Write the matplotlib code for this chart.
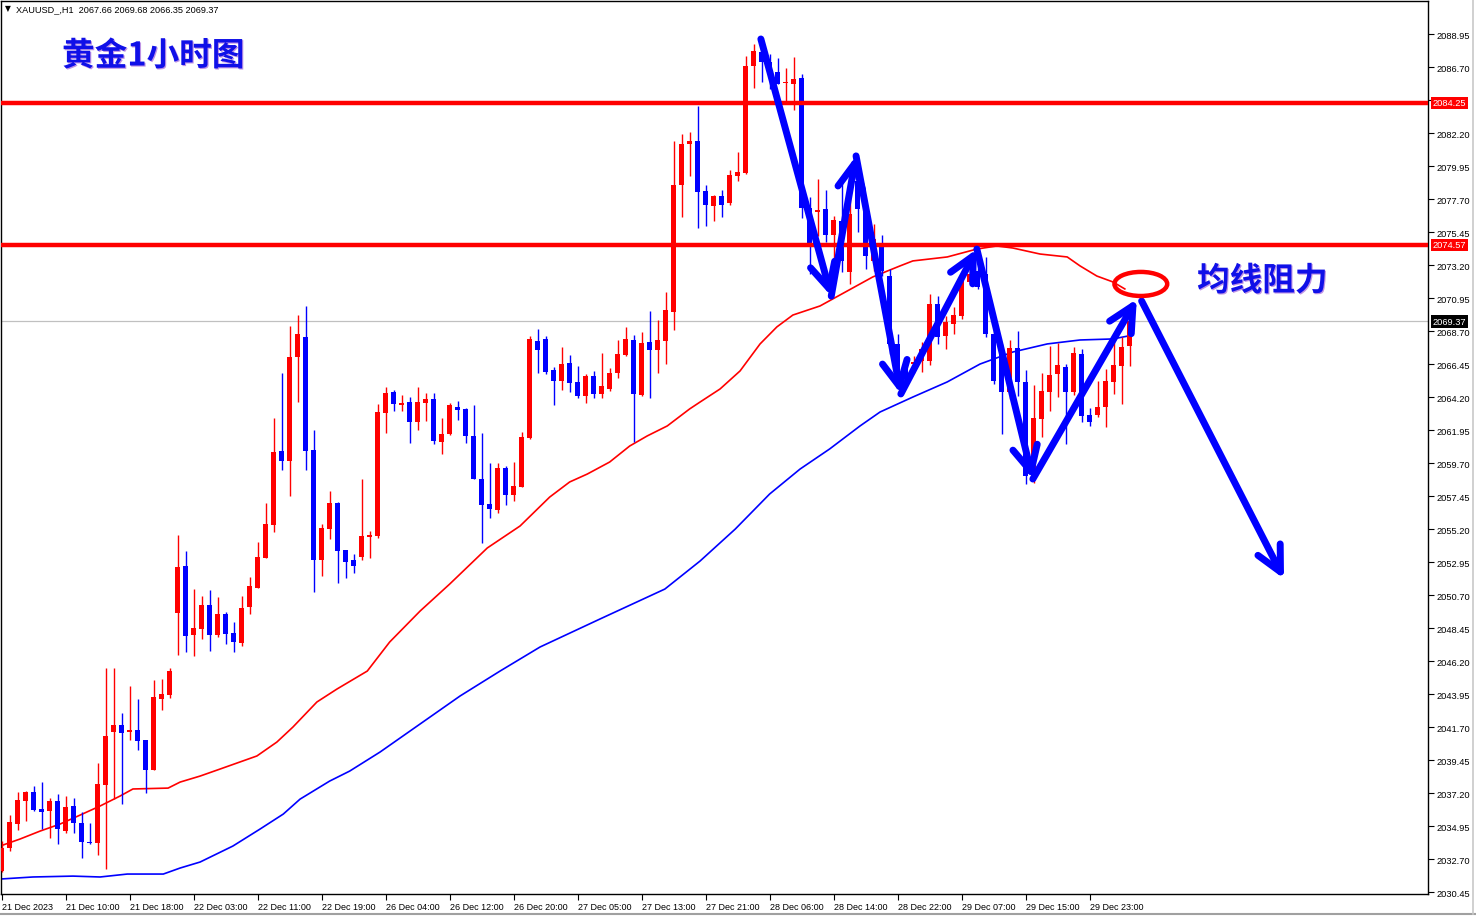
import matplotlib
matplotlib.use('Agg')
import matplotlib.pyplot as plt
import matplotlib.patheffects as pe
import matplotlib.transforms as mtransforms
from matplotlib.patches import Ellipse
from matplotlib.lines import Line2D
import numpy as np

plt.rcParams['font.family'] = ['Liberation Sans', 'DejaVu Sans']

# ---------------- data (XAUUSD H1 candles) ----------------
opens = [2031.88, 2033.45, 2035.09, 2036.65, 2037.27, 2036.11, 2035.97, 2036.65, 2034.61, 2036.31,
         2035.15, 2033.86, 2033.79, 2037.74, 2041.36, 2041.84, 2041.36, 2041.50, 2040.82, 2038.77,
         2043.61, 2043.88, 2049.48, 2052.68, 2047.97, 2048.38, 2050.02, 2047.97, 2049.41, 2048.11,
         2047.43, 2049.89, 2051.18, 2053.22, 2055.48, 2060.52, 2059.84, 2066.93, 2068.29, 2060.59,
         2053.09, 2055.20, 2056.98, 2053.77, 2053.09, 2053.29, 2054.66, 2054.73, 2063.11, 2064.54,
         2063.66, 2063.86, 2062.50, 2063.79, 2064.07, 2061.13, 2061.68, 2063.52, 2063.38, 2061.54,
         2058.61, 2056.91, 2056.50, 2059.36, 2057.52, 2058.07, 2061.41, 2068.02, 2068.16, 2066.04,
         2065.29, 2066.52, 2065.23, 2064.27, 2065.63, 2064.41, 2064.75, 2065.84, 2067.07, 2068.09,
         2064.34, 2067.95, 2067.41, 2068.02, 2070.00, 2078.66, 2081.45, 2081.66, 2078.25, 2077.23,
         2077.91, 2077.43, 2079.27, 2079.48, 2086.77, 2087.73, 2087.04, 2086.36, 2085.61, 2085.54,
         2085.95, 2077.09, 2076.82, 2077.02, 2075.25, 2076.20, 2072.73, 2078.93, 2077.02, 2073.48,
         2074.57, 2072.45, 2067.82, 2066.25, 2066.45, 2066.66, 2066.66, 2070.54, 2068.36, 2069.18,
         2069.73, 2072.05, 2072.79, 2072.59, 2068.50, 2067.34, 2064.54, 2067.54, 2065.23, 2059.02,
         2062.70, 2064.54, 2065.77, 2066.25, 2064.54, 2067.13, 2062.98, 2062.98, 2063.52, 2065.23,
         2066.32, 2067.66]
highs = [2033.93, 2035.70, 2037.27, 2037.34, 2037.68, 2037.95, 2036.86, 2037.13, 2036.99, 2036.86,
         2035.90, 2035.15, 2039.24, 2045.72, 2045.72, 2042.65, 2044.50, 2043.61, 2040.82, 2044.91,
         2044.97, 2045.72, 2054.79, 2053.70, 2051.11, 2050.64, 2051.04, 2050.57, 2049.55, 2048.86,
         2050.64, 2051.93, 2054.32, 2056.98, 2062.77, 2065.84, 2069.04, 2069.80, 2070.41, 2061.95,
         2055.54, 2057.79, 2057.04, 2053.77, 2053.50, 2058.61, 2055.07, 2063.73, 2064.89, 2064.68,
         2064.34, 2064.20, 2064.89, 2064.48, 2064.48, 2062.77, 2063.79, 2063.93, 2063.45, 2063.66,
         2061.75, 2059.70, 2059.70, 2059.50, 2059.77, 2061.82, 2068.36, 2068.84, 2068.36, 2066.25,
         2067.61, 2067.07, 2066.32, 2065.77, 2065.98, 2067.20, 2066.18, 2068.09, 2068.98, 2068.43,
         2068.63, 2070.07, 2069.45, 2071.36, 2081.66, 2082.14, 2082.27, 2084.04, 2078.66, 2077.98,
         2078.32, 2079.68, 2080.91, 2087.45, 2088.27, 2088.27, 2087.59, 2087.32, 2086.64, 2087.39,
         2086.23, 2077.84, 2079.07, 2078.32, 2076.55, 2078.86, 2078.39, 2079.27, 2077.36, 2075.98,
         2075.25, 2072.93, 2068.50, 2066.66, 2067.00, 2067.95, 2071.23, 2071.09, 2069.73, 2070.34,
         2072.73, 2073.27, 2073.48, 2073.75, 2069.18, 2067.82, 2068.09, 2068.70, 2066.04, 2065.02,
         2065.84, 2067.68, 2067.89, 2066.45, 2067.61, 2067.48, 2063.45, 2065.29, 2066.11, 2068.16,
         2068.29, 2069.68]
lows = [2031.81, 2033.24, 2034.68, 2035.29, 2035.97, 2034.74, 2034.13, 2033.72, 2034.47, 2034.47,
        2032.77, 2033.72, 2032.97, 2032.02, 2036.79, 2036.45, 2040.82, 2040.13, 2037.20, 2038.77,
        2042.86, 2043.68, 2046.61, 2046.82, 2046.54, 2047.70, 2046.88, 2047.84, 2047.36, 2046.82,
        2047.22, 2049.41, 2051.18, 2053.22, 2055.00, 2059.23, 2057.45, 2063.86, 2059.23, 2050.91,
        2052.00, 2054.52, 2051.52, 2051.86, 2052.20, 2053.09, 2053.22, 2054.59, 2061.75, 2063.25,
        2063.25, 2061.06, 2061.95, 2062.57, 2061.00, 2060.32, 2061.61, 2062.63, 2061.06, 2058.61,
        2054.25, 2055.95, 2056.29, 2056.84, 2057.11, 2058.07, 2061.34, 2065.84, 2065.77, 2063.66,
        2064.68, 2064.54, 2064.14, 2063.79, 2064.14, 2064.14, 2064.61, 2065.50, 2067.00, 2061.13,
        2064.27, 2064.14, 2065.84, 2066.45, 2068.77, 2076.48, 2079.27, 2075.73, 2075.86, 2076.20,
        2076.48, 2077.29, 2078.93, 2079.41, 2085.27, 2085.68, 2085.20, 2085.54, 2084.32, 2083.77,
        2076.41, 2072.59, 2075.18, 2074.77, 2073.14, 2072.73, 2071.91, 2075.45, 2072.93, 2072.79,
        2072.45, 2067.14, 2065.23, 2064.89, 2065.84, 2065.91, 2066.38, 2067.82, 2067.48, 2068.50,
        2069.52, 2071.91, 2071.57, 2068.29, 2065.09, 2061.68, 2064.07, 2064.27, 2058.27, 2058.34,
        2061.47, 2063.25, 2064.20, 2061.00, 2064.34, 2062.50, 2062.23, 2062.84, 2062.16, 2064.41,
        2063.73, 2066.35]
closes = [2033.45, 2035.22, 2036.72, 2037.27, 2036.04, 2035.90, 2036.65, 2034.74, 2036.24, 2035.15,
          2033.86, 2033.79, 2037.81, 2041.09, 2041.84, 2041.29, 2041.50, 2040.75, 2038.77, 2043.75,
          2043.95, 2045.52, 2052.61, 2047.91, 2048.45, 2050.02, 2047.97, 2049.41, 2048.04, 2047.50,
          2049.82, 2051.32, 2053.29, 2055.54, 2060.45, 2059.84, 2066.93, 2068.50, 2060.52, 2053.09,
          2055.27, 2056.98, 2053.70, 2052.95, 2052.68, 2054.73, 2054.79, 2063.18, 2064.48, 2063.73,
          2063.79, 2062.50, 2063.86, 2064.07, 2061.20, 2061.68, 2063.66, 2063.32, 2061.54, 2058.61,
          2056.84, 2056.57, 2059.36, 2057.52, 2058.13, 2061.47, 2068.16, 2067.41, 2065.91, 2065.29,
          2066.45, 2065.16, 2064.27, 2065.63, 2064.41, 2064.95, 2065.84, 2067.13, 2068.16, 2064.41,
          2067.89, 2067.41, 2068.09, 2070.14, 2078.66, 2081.45, 2081.66, 2078.18, 2077.29, 2077.91,
          2077.29, 2079.34, 2079.54, 2086.77, 2087.79, 2087.04, 2086.23, 2085.54, 2085.68, 2085.89,
          2077.09, 2074.64, 2076.95, 2075.25, 2076.27, 2073.48, 2076.68, 2077.02, 2073.82, 2074.98,
          2072.79, 2067.82, 2065.77, 2065.43, 2066.59, 2067.48, 2070.54, 2068.29, 2069.32, 2069.79,
          2072.25, 2072.59, 2071.70, 2068.50, 2065.29, 2064.54, 2067.54, 2065.23, 2058.82, 2062.77,
          2064.61, 2065.70, 2066.38, 2064.54, 2067.20, 2062.91, 2062.50, 2063.52, 2065.29, 2066.38,
          2067.61, 2069.37]

# moving averages (bar index, price)
ma_red_bar = [-0.2, 2.3, 4.8, 7.3, 9.8, 12.3, 14.8, 16.4, 20.8, 22.3, 24.8, 27.3, 31.9, 34.4, 36.4,
              39.4, 41.9, 45.7, 48.5, 52.3, 56.0, 60.7, 64.8, 68.5, 71.0, 73.2, 76.0, 78.5, 80.7,
              83.2, 86.0, 87.3, 89.8, 92.3, 94.8, 96.9, 98.9, 102.3, 105.7, 108.9, 112.3, 113.9,
              118.2, 121.9, 124.4, 126.4, 129.8, 133.2, 134.8, 136.9, 138.9, 140.4]
ma_red_val = [2033.59, 2034.07, 2034.61, 2035.09, 2035.70, 2036.32, 2037.00, 2037.48, 2037.54,
              2037.95, 2038.36, 2038.84, 2039.73, 2040.68, 2041.70, 2043.41, 2044.29, 2045.52,
              2047.50, 2049.61, 2051.45, 2053.91, 2055.41, 2057.38, 2058.41, 2058.95, 2059.77,
              2060.86, 2061.55, 2062.23, 2063.39, 2063.86, 2064.75, 2065.98, 2067.82, 2068.98,
              2069.79, 2070.41, 2071.43, 2072.39, 2073.14, 2073.48, 2073.75, 2074.29, 2074.50,
              2074.36, 2073.95, 2073.75, 2073.14, 2072.45, 2072.05, 2071.57]
ma_blue_bar = [-0.2, 3.9, 8.9, 12.3, 15.7, 20.2, 22.3, 24.8, 28.9, 32.3, 35.2, 37.3, 41.0, 43.5,
               47.3, 52.3, 57.3, 62.3, 67.3, 74.8, 82.9, 87.3, 91.7, 96.0, 99.8, 103.5, 107.3,
               109.8, 113.9, 118.2, 122.3, 126.4, 130.7, 134.8, 138.9, 140.8]
ma_blue_val = [2031.34, 2031.48, 2031.54, 2031.48, 2031.68, 2031.68, 2032.09, 2032.50, 2033.59,
               2034.75, 2035.77, 2036.79, 2038.02, 2038.70, 2040.00, 2041.91, 2043.82, 2045.52,
               2047.16, 2049.07, 2051.11, 2053.02, 2055.20, 2057.59, 2059.29, 2060.66, 2062.23,
               2063.18, 2064.20, 2065.23, 2066.45, 2067.27, 2067.82, 2068.09, 2068.16, 2068.36]

level_lines = [2084.25, 2074.57]
last_price = 2069.37

x_tick_bars = [0, 8, 16, 24, 32, 40, 48, 56, 64, 72, 80, 88, 96, 104, 112, 120, 128, 136]
x_tick_labels = ["21 Dec 2023", "21 Dec 10:00", "21 Dec 18:00", "22 Dec 03:00", "22 Dec 11:00",
                 "22 Dec 19:00", "26 Dec 04:00", "26 Dec 12:00", "26 Dec 20:00", "27 Dec 05:00",
                 "27 Dec 13:00", "27 Dec 21:00", "28 Dec 06:00", "28 Dec 14:00", "28 Dec 22:00",
                 "29 Dec 07:00", "29 Dec 15:00", "29 Dec 23:00"]
y_tick_labels = ["2088.95", "2086.70", "2084.45", "2082.20", "2079.95", "2077.70", "2075.45",
                 "2073.20", "2070.95", "2068.70", "2066.45", "2064.20", "2061.95", "2059.70",
                 "2057.45", "2055.20", "2052.95", "2050.70", "2048.45", "2046.20", "2043.95",
                 "2041.70", "2039.45", "2037.20", "2034.95", "2032.70", "2030.45"]

# hand-drawn annotation path (bar index, price)
zigzag_bar = [94.9, 103.7, 106.8, 112.4, 121.9, 128.9, 141.9]
zigzag_val = [2088.61, 2071.08, 2080.64, 2064.41, 2074.29, 2058.61, 2070.88]
forecast_bar = [142.5, 160.3]
forecast_val = [2070.75, 2051.81]
ellipse_center = (142.4, 2071.91)

header = "XAUUSD_,H1  2067.66 2069.68 2066.35 2069.37"
title = "黄金1小时图"
note = "均线阻力"

# ---------------- figure ----------------
W, H = 1476, 920
fig = plt.figure(figsize=(W / 100, H / 100), dpi=100)
fig.patch.set_facecolor('white')
ax = fig.add_axes([1 / W, 25 / H, 1427 / W, 893 / H])
ax.set_xlim(-0.09, 178.3)
ax.set_ylim(2030.32, 2091.20)

RED = '#ff0000'
BLUE = '#0000ff'

o = np.array(opens); h = np.array(highs); l = np.array(lows); c = np.array(closes)
x = np.arange(len(o))
cols = np.where(c >= o, RED, BLUE)
ax.vlines(x, l, h, colors=cols, lw=1.0, zorder=3)
body_b = np.minimum(o, c)
body_h = np.maximum(np.abs(c - o), 0.08)
ax.bar(x, body_h, bottom=body_b, width=0.64, color=cols, linewidth=0, zorder=4)

ax.plot(ma_red_bar, ma_red_val, color=RED, lw=1.2, zorder=2)
ax.plot(ma_blue_bar, ma_blue_val, color=BLUE, lw=1.2, zorder=2)

ax.axhline(last_price, color='#c0c0c0', lw=0.9, zorder=1)
for lv in level_lines:
    ax.axhline(lv, color=RED, lw=3.2, zorder=5)

# annotation arrows
def arrow(p0, p1):
    ax.annotate('', xy=p1, xytext=p0, zorder=7, annotation_clip=False,
                arrowprops=dict(arrowstyle='->,head_length=0.9,head_width=0.45',
                                color=BLUE, lw=5, shrinkA=0, shrinkB=0,
                                mutation_scale=20, capstyle='round', joinstyle='round'))

for i in range(len(zigzag_bar) - 1):
    arrow((zigzag_bar[i], zigzag_val[i]), (zigzag_bar[i + 1], zigzag_val[i + 1]))
arrow((forecast_bar[0], forecast_val[0]), (forecast_bar[1], forecast_val[1]))

ax.add_patch(Ellipse(ellipse_center, width=6.6, height=1.64, fill=False,
                     edgecolor=RED, lw=3.2, zorder=7))

# axes styling
for s in ax.spines.values():
    s.set_color('black'); s.set_linewidth(1.0)
ax.yaxis.tick_right()
y_ticks = [float(v) for v in y_tick_labels]
ax.set_yticks(y_ticks)
ax.set_yticklabels([lab if lab != "2084.45" else "" for lab in y_tick_labels])
ax.tick_params(axis='y', which='both', direction='out', length=4, width=0.8,
               labelsize=6.7, pad=2, colors='black', left=False, right=True)
ax.set_xticks(x_tick_bars)
ax.set_xticklabels(x_tick_labels)
ax.tick_params(axis='x', direction='out', length=4, width=0.8, labelsize=6.5, pad=2)
for lbl in ax.get_xticklabels():
    lbl.set_ha('left')

# price boxes on the right axis
trans = mtransforms.blended_transform_factory(ax.transAxes, ax.transData)
for lv in level_lines:
    ax.text(1.0035, lv, f"{lv:.2f}", transform=trans, color='white', fontsize=6.7,
            ha='left', va='center', zorder=10, clip_on=False,
            bbox=dict(boxstyle='square,pad=0.2', fc=RED, ec='none'))
ax.text(1.0035, last_price, f"{last_price:.2f}", transform=trans, color='white', fontsize=6.7,
        ha='left', va='center', zorder=10, clip_on=False,
        bbox=dict(boxstyle='square,pad=0.2', fc='black', ec='none'))

# texts
fig.text(5 / W, 1 - 9 / H, "▼", fontsize=5.5, color='black', va='center', ha='left',
         family=['DejaVu Sans'])
fig.text(16 / W, 1 - 9.5 / H, header, fontsize=6.6, color='black', va='center', ha='left')

cjk = ['Noto Sans CJK SC', 'DejaVu Sans']
shadow = [pe.SimplePatchShadow(offset=(0.8, -0.8), shadow_rgbFace='#8a3ad0', alpha=0.55), pe.Normal()]
fig.text(62 / W, 1 - 57 / H, title, fontsize=23.5, fontweight='bold', color='#1010e8',
         family=cjk, va='center', ha='left', path_effects=shadow)
fig.text(1197 / W, 1 - 282 / H, note, fontsize=23.5, fontweight='bold', color='#1010e8',
         family=cjk, va='center', ha='left', path_effects=shadow)

# window frame bits
fig.add_artist(Line2D([0, 1], [1 - 915 / H] * 2, color='#a0a0a0', lw=1.5, transform=fig.transFigure))
fig.add_artist(Line2D([1473 / W] * 2, [1 - 915 / H, 1], color='#c8c8c8', lw=1.2, transform=fig.transFigure))

fig.savefig('out.png', dpi=100)
